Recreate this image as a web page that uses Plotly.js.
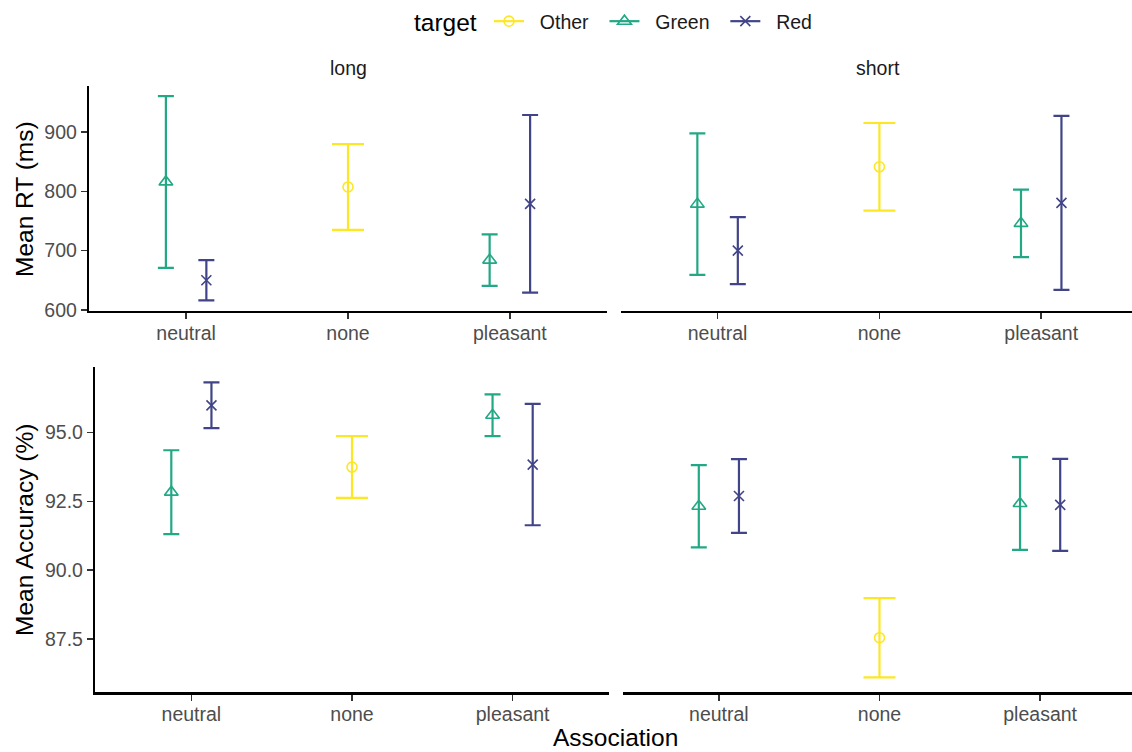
<!DOCTYPE html>
<html>
<head>
<meta charset="utf-8">
<script src="https://cdn.plot.ly/plotly-3.0.1.min.js"></script>
<style>
  html, body { margin: 0; padding: 0; background: #ffffff; }
  #chart { width: 1132px; height: 752px; }
</style>
</head>
<body>
<div id="chart"></div>
<script>
// Categories on the x axis and target levels
const associations = ['neutral', 'none', 'pleasant'];
const targets = ['Other', 'Green', 'Red'];
const durations = ['long', 'short'];

// One row per (target, association) cell present in the design
const rowTarget = ['Green', 'Red', 'Other', 'Green', 'Red'];
const rowAssoc  = ['neutral', 'neutral', 'none', 'pleasant', 'pleasant'];

// Mean RT (ms) and error half-widths
const rtLongMean  = [816, 650, 807.5, 684, 779];
const rtLongErr   = [145, 34, 72.5, 43.5, 150];
const rtShortMean = [778.5, 700, 841.5, 746, 780.6];
const rtShortErr  = [119.5, 56.5, 74, 57, 147];

// Mean accuracy (%) and error half-widths
const accLongMean  = [92.83, 95.98, 93.74, 95.62, 93.83];
const accLongErr   = [1.52, 0.83, 1.12, 0.76, 2.2];
const accShortMean = [92.32, 92.69, 87.55, 92.42, 92.37];
const accShortErr  = [1.49, 1.34, 1.44, 1.68, 1.67];

// Tick values
const rtTicks  = [600, 700, 800, 900];
const accTicks = [87.5, 90, 92.5, 95];

const colors  = { Other: '#FDE725', Green: '#22A884', Red: '#414487' };
const symbols = { Other: 'circle-open', Green: 'triangle-up-open', Red: 'x-thin-open' };
const msize   = { Other: 10, Green: 12, Red: 10 };

const FONT = 'Liberation Sans, Arial, sans-serif';
const dodgeWidth = 0.5;
const NB = '\u00A0';

// dodge: position of each row within its association group
function dodgeInfo(i) {
  const same = [];
  rowAssoc.forEach((a, j) => { if (a === rowAssoc[i]) same.push(j); });
  const n = same.length;
  const k = same.indexOf(i);
  return { n: n, offset: (k - (n - 1) / 2) * (dodgeWidth / n) };
}

const panels = [
  { mean: rtLongMean,   err: rtLongErr,   xa: 'x',  ya: 'y'  },
  { mean: rtShortMean,  err: rtShortErr,  xa: 'x2', ya: 'y2' },
  { mean: accLongMean,  err: accLongErr,  xa: 'x3', ya: 'y3' },
  { mean: accShortMean, err: accShortErr, xa: 'x4', ya: 'y4' }
];

const traces = [];
panels.forEach(p => {
  targets.forEach(t => {
    const xs = [], ys = [], es = [];
    let n = 1;
    rowTarget.forEach((rt, i) => {
      if (rt !== t) return;
      const d = dodgeInfo(i);
      n = d.n;
      xs.push(associations.indexOf(rowAssoc[i]) + d.offset);
      ys.push(p.mean[i]);
      es.push(p.err[i]);
    });
    traces.push({
      type: 'scatter', mode: 'markers', x: xs, y: ys,
      xaxis: p.xa, yaxis: p.ya, showlegend: false, legendgroup: t, hoverinfo: 'y',
      marker: { symbol: symbols[t], size: msize[t], color: colors[t], line: { color: colors[t], width: 1.6 } },
      error_y: { type: 'data', array: es, visible: true, color: colors[t], thickness: 2.2, width: 16 / n }
    });
  });
});

// legend keys: line with the target's point symbol
targets.forEach(t => {
  traces.push({
    type: 'scatter', mode: 'lines+markers', x: [null], y: [null],
    name: NB + NB + t + NB + NB, legendgroup: t,
    xaxis: 'x', yaxis: 'y', showlegend: true,
    line: { color: colors[t], width: 2.2 },
    marker: { symbol: symbols[t], size: msize[t], color: colors[t], line: { color: colors[t], width: 1.6 } }
  });
});

const W = 1132, H = 752;
const px = v => v / W;
const py = v => 1 - v / H;

function xAxis(d0, d1, rmax, anchor) {
  return {
    domain: [px(d0), px(d1)], range: [-0.6, rmax], anchor: anchor,
    tickvals: [0, 1, 2], ticktext: associations,
    showline: true, linecolor: '#000000', linewidth: 2.2, mirror: false,
    showgrid: false, zeroline: false,
    ticks: 'outside', ticklen: 6, tickwidth: 1.5, tickcolor: '#333333', ticklabelstandoff: -3,
    tickfont: { family: FONT, size: 19.5, color: '#4D4D4D' }, fixedrange: true
  };
}
function yAxis(t0, t1, range, ticks, fmt, show, anchor) {
  return {
    domain: [py(t1), py(t0)], range: range, anchor: anchor,
    tickvals: ticks, tickformat: fmt,
    showline: show, linecolor: '#000000', linewidth: 2.2,
    showticklabels: show, ticks: show ? 'outside' : '', ticklen: 6, tickwidth: 1.5, tickcolor: '#333333',
    showgrid: false, zeroline: false,
    tickfont: { family: FONT, size: 19.5, color: '#4D4D4D' }, fixedrange: true
  };
}

const layout = {
  width: W, height: H,
  margin: { l: 0, r: 0, t: 0, b: 0 },
  paper_bgcolor: '#ffffff', plot_bgcolor: '#ffffff',
  showlegend: true,
  legend: {
    orientation: 'h', x: px(489), xanchor: 'left', y: py(2), yanchor: 'top',
    font: { family: FONT, size: 19.5, color: '#1A1A1A' },
    bgcolor: 'rgba(0,0,0,0)', traceorder: 'normal'
  },
  xaxis:  xAxis(89, 607, 2.6, 'y'),
  yaxis:  yAxis(86, 311, [598, 978], rtTicks, 'd', true, 'x'),
  xaxis2: xAxis(620.5, 1132, 2.561, 'y2'),
  yaxis2: yAxis(86, 311, [598, 978], rtTicks, 'd', false, 'x2'),
  xaxis3: xAxis(95, 609, 2.6, 'y3'),
  yaxis3: yAxis(367.3, 692.3, [85.57, 97.36], accTicks, '.1f', true, 'x3'),
  xaxis4: xAxis(622.5, 1132, 2.572, 'y4'),
  yaxis4: yAxis(367.3, 692.3, [85.57, 97.36], accTicks, '.1f', false, 'x4'),
  annotations: [
    { text: 'target', xref: 'paper', yref: 'paper', x: px(412), y: py(22), xanchor: 'left', yanchor: 'middle',
      showarrow: false, font: { family: FONT, size: 24.5, color: '#000000' } },
    { text: durations[0], xref: 'paper', yref: 'paper', x: px(348), y: py(68), xanchor: 'center', yanchor: 'middle',
      showarrow: false, font: { family: FONT, size: 19.5, color: '#1A1A1A' } },
    { text: durations[1], xref: 'paper', yref: 'paper', x: px(878), y: py(68), xanchor: 'center', yanchor: 'middle',
      showarrow: false, font: { family: FONT, size: 19.5, color: '#1A1A1A' } },
    { text: 'Mean RT (ms)', xref: 'paper', yref: 'paper', x: px(24), y: py(199), xanchor: 'center', yanchor: 'middle',
      textangle: -90, showarrow: false, font: { family: FONT, size: 24.5, color: '#000000' } },
    { text: 'Mean Accuracy (%)', xref: 'paper', yref: 'paper', x: px(24), y: py(530), xanchor: 'center', yanchor: 'middle',
      textangle: -90, showarrow: false, font: { family: FONT, size: 24.5, color: '#000000' } },
    { text: 'Association', xref: 'paper', yref: 'paper', x: px(615), y: py(737), xanchor: 'center', yanchor: 'middle',
      showarrow: false, font: { family: FONT, size: 24.5, color: '#000000' } }
  ]
};

Plotly.newPlot('chart', traces, layout, { displayModeBar: false, staticPlot: true });
</script>
</body>
</html>
